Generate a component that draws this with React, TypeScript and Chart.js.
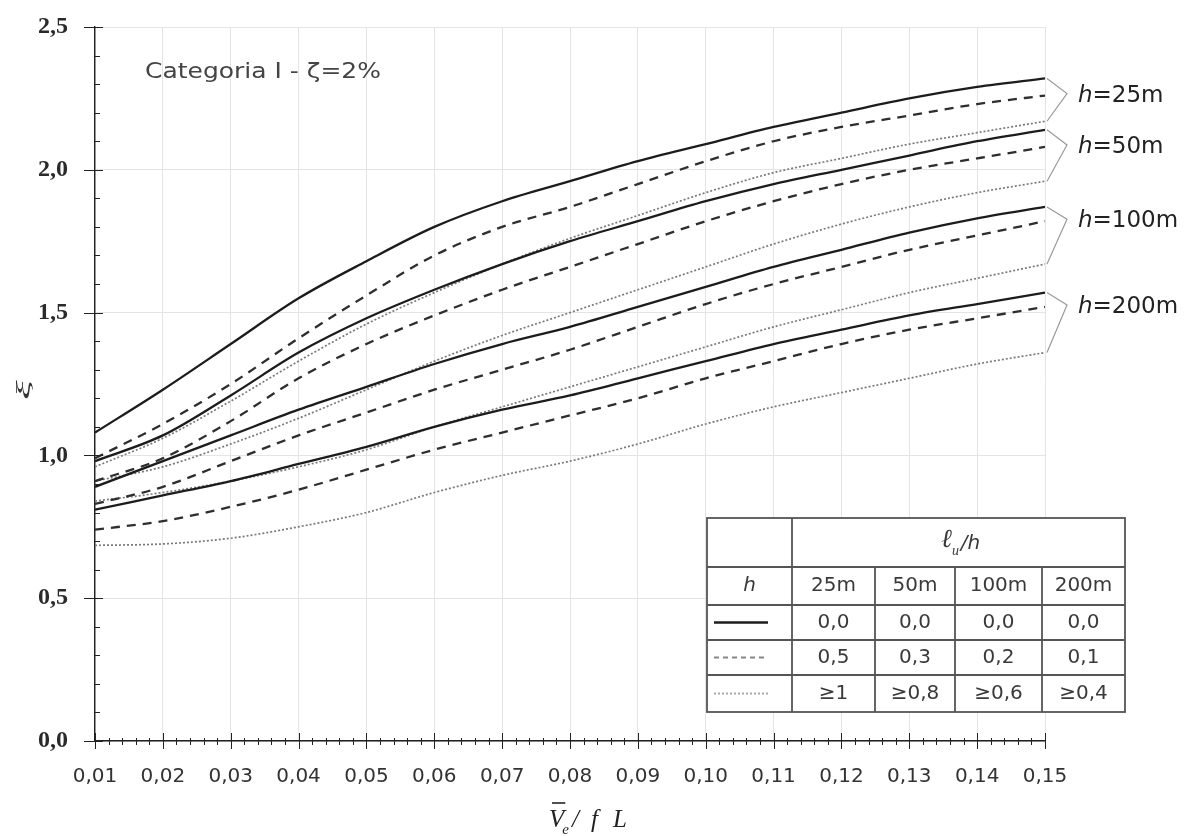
import React, { useEffect, useRef } from "react";
import { Chart, registerables } from "chart.js";

Chart.register(...registerables);

// ---------- data ----------
const xValues = [0.01, 0.02, 0.03, 0.04, 0.05, 0.06, 0.07, 0.08, 0.09, 0.1, 0.11, 0.12, 0.13, 0.14, 0.15];

const h25Solid = [1.08, 1.23, 1.39, 1.55, 1.68, 1.8, 1.89, 1.96, 2.03, 2.09, 2.15, 2.2, 2.25, 2.29, 2.32];
const h25Dashed = [0.99, 1.11, 1.25, 1.41, 1.56, 1.7, 1.8, 1.87, 1.95, 2.03, 2.1, 2.15, 2.19, 2.23, 2.26];
const h25Dotted = [0.96, 1.06, 1.19, 1.33, 1.46, 1.57, 1.67, 1.76, 1.84, 1.92, 1.99, 2.04, 2.09, 2.13, 2.17];

const h50Solid = [0.98, 1.07, 1.21, 1.36, 1.48, 1.58, 1.67, 1.75, 1.82, 1.89, 1.95, 2.0, 2.05, 2.1, 2.14];
const h50Dashed = [0.91, 0.99, 1.12, 1.27, 1.39, 1.49, 1.58, 1.66, 1.74, 1.82, 1.89, 1.95, 2.0, 2.04, 2.08];
const h50Dotted = [0.91, 0.96, 1.04, 1.13, 1.23, 1.33, 1.42, 1.5, 1.58, 1.66, 1.74, 1.81, 1.87, 1.92, 1.96];

const h100Solid = [0.89, 0.98, 1.07, 1.16, 1.24, 1.32, 1.39, 1.45, 1.52, 1.59, 1.66, 1.72, 1.78, 1.83, 1.87];
const h100Dashed = [0.83, 0.89, 0.98, 1.07, 1.15, 1.23, 1.3, 1.37, 1.45, 1.53, 1.6, 1.66, 1.72, 1.77, 1.82];
const h100Dotted = [0.84, 0.87, 0.91, 0.96, 1.02, 1.1, 1.17, 1.24, 1.31, 1.38, 1.45, 1.51, 1.57, 1.62, 1.67];

const h200Solid = [0.81, 0.86, 0.91, 0.97, 1.03, 1.1, 1.16, 1.21, 1.27, 1.33, 1.39, 1.44, 1.49, 1.53, 1.57];
const h200Dashed = [0.74, 0.77, 0.82, 0.88, 0.95, 1.02, 1.08, 1.14, 1.2, 1.27, 1.33, 1.39, 1.44, 1.48, 1.52];
const h200Dotted = [0.685, 0.69, 0.71, 0.75, 0.8, 0.87, 0.93, 0.98, 1.04, 1.11, 1.17, 1.22, 1.27, 1.32, 1.36];

const groupLabels = ["h=25m", "h=50m", "h=100m", "h=200m"];
const heightHeaders = ["25m", "50m", "100m", "200m"];
const ratioSolid = ["0,0", "0,0", "0,0", "0,0"];
const ratioDashed = ["0,5", "0,3", "0,2", "0,1"];
const ratioDotted = ["≥1", "≥0,8", "≥0,6", "≥0,4"];

const xTicks = [0.01, 0.02, 0.03, 0.04, 0.05, 0.06, 0.07, 0.08, 0.09, 0.1, 0.11, 0.12, 0.13, 0.14, 0.15];
const yTicks = [0, 0.5, 1.0, 1.5, 2.0, 2.5];

const chartTitle = "Categoria I - ζ=2%";

// ---------- styles ----------
const SOLID = { borderColor: "#1c1c1c", borderWidth: 2.3, borderDash: [] as number[] };
const DASHED = { borderColor: "#2e2e2e", borderWidth: 2.3, borderDash: [9, 7] };
const DOTTED = { borderColor: "#7a7a7a", borderWidth: 1.7, borderDash: [2, 2] };

const groups = [
  { label: groupLabels[0], solid: h25Solid, dashed: h25Dashed, dotted: h25Dotted },
  { label: groupLabels[1], solid: h50Solid, dashed: h50Dashed, dotted: h50Dotted },
  { label: groupLabels[2], solid: h100Solid, dashed: h100Dashed, dotted: h100Dotted },
  { label: groupLabels[3], solid: h200Solid, dashed: h200Dashed, dotted: h200Dotted },
];

const toPts = (arr: number[]) => arr.map((y, i) => ({ x: xValues[i], y }));

const SANS = "'DejaVu Sans', 'Noto Sans', sans-serif";
const SERIF = "'Liberation Serif', 'DejaVu Serif', serif";

const decorPlugin = {
  id: "decor",
  afterDatasetsDraw(chart: any) {
    const ctx: CanvasRenderingContext2D = chart.ctx;
    const xs = chart.scales.x;
    const ys = chart.scales.y;
    const L = chart.chartArea.left;
    const B = chart.chartArea.bottom;
    ctx.save();

    // axis tick marks
    ctx.strokeStyle = "#222";
    ctx.lineWidth = 1;
    const xMin = xTicks[0];
    const xMax = xTicks[xTicks.length - 1];
    const nx = Math.round((xMax - xMin) / 0.002);
    for (let i = 0; i <= nx; i++) {
      const px = Math.round(xs.getPixelForValue(xMin + i * 0.002)) + 0.5;
      const major = i % 5 === 0;
      ctx.beginPath();
      ctx.moveTo(px, major ? B - 8 : B - 3);
      ctx.lineTo(px, major ? B + 8 : B + 4);
      ctx.stroke();
    }
    const yMax = yTicks[yTicks.length - 1];
    const ny = Math.round(yMax / 0.1);
    for (let i = 0; i <= ny; i++) {
      const py = Math.round(ys.getPixelForValue(i * 0.1)) + 0.5;
      const major = i % 5 === 0;
      ctx.beginPath();
      ctx.moveTo(major ? L - 11 : L, py);
      ctx.lineTo(major ? L + 8 : L + 5, py);
      ctx.stroke();
    }

    // brackets + right labels
    const R = chart.chartArea.right;
    ctx.textBaseline = "middle";
    groups.forEach((g) => {
      const n = g.solid.length - 1;
      const yTop = ys.getPixelForValue(g.solid[n]);
      const yMid = ys.getPixelForValue(g.dashed[n]);
      const yBot = ys.getPixelForValue(g.dotted[n]);
      const ax = R + 22;
      ctx.strokeStyle = "#9a9a9a";
      ctx.lineWidth = 1.2;
      ctx.beginPath();
      ctx.moveTo(R + 2, yTop);
      ctx.lineTo(ax, yMid - 2);
      ctx.lineTo(R + 2, yBot);
      ctx.stroke();
      ctx.fillStyle = "#222";
      const rest = g.label.slice(1);
      ctx.font = `oblique 23px ${SANS}`;
      ctx.fillText("h", ax + 11, yMid);
      const hw = ctx.measureText("h").width;
      ctx.font = `23px ${SANS}`;
      ctx.fillText(rest, ax + 11 + hw, yMid);
    });

    // title (fit to its width in the reference)
    ctx.fillStyle = "#444";
    ctx.font = `21px ${SANS}`;
    ctx.textBaseline = "alphabetic";
    const tw = ctx.measureText(chartTitle).width;
    ctx.save();
    ctx.translate(145, 78);
    ctx.scale(236 / tw, 1);
    ctx.fillText(chartTitle, 0, 0);
    ctx.restore();

    // y-axis title (xi, rotated)
    ctx.save();
    ctx.translate(24, 390);
    ctx.rotate(-Math.PI / 2);
    ctx.scale(2.4, 1);
    ctx.font = `italic 19px ${SERIF}`;
    ctx.fillStyle = "#333";
    ctx.textAlign = "center";
    ctx.textBaseline = "middle";
    ctx.fillText("ξ", 0, 0);
    ctx.restore();

    // x-axis title  V̄e / f L
    ctx.fillStyle = "#222";
    ctx.font = `italic 25px ${SERIF}`;
    ctx.textBaseline = "alphabetic";
    const vx = 549;
    const by = 827;
    ctx.fillText("V", vx, by);
    const vw = ctx.measureText("V").width;
    ctx.strokeStyle = "#222";
    ctx.lineWidth = 1.6;
    ctx.beginPath();
    ctx.moveTo(vx + 3, 803);
    ctx.lineTo(vx + vw + 1, 803);
    ctx.stroke();
    ctx.font = `italic 15px ${SERIF}`;
    ctx.fillText("e", vx + vw - 2, by + 7);
    ctx.font = `italic 25px ${SERIF}`;
    ctx.fillText("/", 572, by);
    ctx.fillText("f", 591, by);
    ctx.fillText("L", 613, by);

    // table
    const colX = [707, 792, 875, 955, 1042, 1125];
    const rowY = [518, 567, 605, 640, 675, 712];
    ctx.fillStyle = "#fff";
    ctx.fillRect(colX[0], rowY[0], colX[5] - colX[0], rowY[5] - rowY[0]);
    ctx.strokeStyle = "#555";
    ctx.lineWidth = 1.8;
    ctx.setLineDash([]);
    ctx.strokeRect(colX[0], rowY[0], colX[5] - colX[0], rowY[5] - rowY[0]);
    for (let r = 1; r < 5; r++) {
      ctx.beginPath();
      ctx.moveTo(colX[0], rowY[r]);
      ctx.lineTo(colX[5], rowY[r]);
      ctx.stroke();
    }
    ctx.beginPath();
    ctx.moveTo(colX[1], rowY[0]);
    ctx.lineTo(colX[1], rowY[5]);
    ctx.stroke();
    for (let c = 2; c < 5; c++) {
      ctx.beginPath();
      ctx.moveTo(colX[c], rowY[1]);
      ctx.lineTo(colX[c], rowY[5]);
      ctx.stroke();
    }
    const cx = (c: number) => (colX[c] + colX[c + 1]) / 2;
    const cy = (r: number) => (rowY[r] + rowY[r + 1]) / 2;
    ctx.textAlign = "center";
    ctx.textBaseline = "middle";
    ctx.fillStyle = "#3a3a3a";
    // header l/h
    const hx = (colX[1] + colX[5]) / 2;
    ctx.font = `italic 26px ${SERIF}`;
    ctx.fillText("ℓ", hx - 12, cy(0) - 2);
    ctx.font = `italic 14px ${SERIF}`;
    ctx.fillText("u", hx - 3, cy(0) + 9);
    ctx.font = `oblique 20px ${SANS}`;
    ctx.fillText("/h", hx + 12, cy(0) + 1);
    // row 2
    ctx.font = `oblique 20px ${SANS}`;
    ctx.fillText("h", cx(0), cy(1));
    ctx.font = `20px ${SANS}`;
    heightHeaders.forEach((t, i) => ctx.fillText(t, cx(i + 1), cy(1)));
    ratioSolid.forEach((t, i) => ctx.fillText(t, cx(i + 1), cy(2)));
    ratioDashed.forEach((t, i) => ctx.fillText(t, cx(i + 1), cy(3)));
    ratioDotted.forEach((t, i) => ctx.fillText(t, cx(i + 1), cy(4)));
    // line samples
    const sample = (r: number, st: any) => {
      ctx.strokeStyle = st.borderColor;
      ctx.lineWidth = st.borderWidth;
      ctx.setLineDash(st.borderDash);
      ctx.beginPath();
      ctx.moveTo(colX[0] + 7, cy(r));
      ctx.lineTo(colX[1] - 24, cy(r));
      ctx.stroke();
      ctx.setLineDash([]);
    };
    sample(2, SOLID);
    sample(3, { ...DASHED, borderColor: "#888", borderWidth: 2, borderDash: [5, 4] });
    sample(4, { ...DOTTED, borderColor: "#aaa", borderWidth: 2 });

    ctx.restore();
  },
};

export default function App() {
  const ref = useRef<HTMLCanvasElement | null>(null);

  useEffect(() => {
    if (!ref.current) return;
    const datasets: any[] = [];
    groups.forEach((g) => {
      datasets.push({ label: g.label + " dotted", data: toPts(g.dotted), ...DOTTED, order: 3 });
    });
    groups.forEach((g) => {
      datasets.push({ label: g.label + " dashed", data: toPts(g.dashed), ...DASHED, order: 2 });
    });
    groups.forEach((g) => {
      datasets.push({ label: g.label + " solid", data: toPts(g.solid), ...SOLID, order: 1 });
    });
    datasets.forEach((d) => {
      d.pointRadius = 0;
      d.fill = false;
      d.cubicInterpolationMode = "monotone";
    });

    const chart = new Chart(ref.current, {
      type: "line",
      data: { datasets },
      options: {
        responsive: false,
        animation: false,
        layout: { padding: { top: 27, right: 145, left: 0, bottom: 0 } },
        plugins: { legend: { display: false }, tooltip: { enabled: false } },
        scales: {
          x: {
            type: "linear",
            min: xTicks[0],
            max: xTicks[xTicks.length - 1],
            afterBuildTicks: (s: any) => {
              s.ticks = xTicks.map((v) => ({ value: v }));
            },
            afterFit: (s: any) => {
              s.height = 95;
              s.paddingLeft = 0;
              s.paddingRight = 0;
            },
            grid: { color: "#e4e4e4", lineWidth: 1, drawTicks: false },
            border: { display: true, color: "#222", width: 1.4 },
            ticks: {
              padding: 24,
              color: "#333",
              font: { size: 20, family: SANS },
              maxRotation: 0,
              autoSkip: false,
              callback: (v: any) => Number(v).toFixed(2).replace(".", ","),
            },
          },
          y: {
            type: "linear",
            min: yTicks[0],
            max: yTicks[yTicks.length - 1],
            afterBuildTicks: (s: any) => {
              s.ticks = yTicks.map((v) => ({ value: v }));
            },
            afterFit: (s: any) => {
              s.width = 95;
              s.paddingTop = 0;
              s.paddingBottom = 0;
            },
            grid: { color: "#e4e4e4", lineWidth: 1, drawTicks: false },
            border: { display: true, color: "#222", width: 1.4 },
            ticks: {
              padding: 27,
              color: "#2a2a2a",
              font: { size: 24, family: SERIF, weight: "bold" },
              callback: (v: any) => Number(v).toFixed(1).replace(".", ","),
            },
          },
        },
      },
      plugins: [decorPlugin],
    });
    return () => chart.destroy();
  }, []);

  return (
    <div style={{ position: "absolute", left: 0, top: 0, width: 1190, height: 836, background: "#fff" }}>
      <canvas ref={ref} width={1190} height={836} style={{ display: "block" }} />
    </div>
  );
}
